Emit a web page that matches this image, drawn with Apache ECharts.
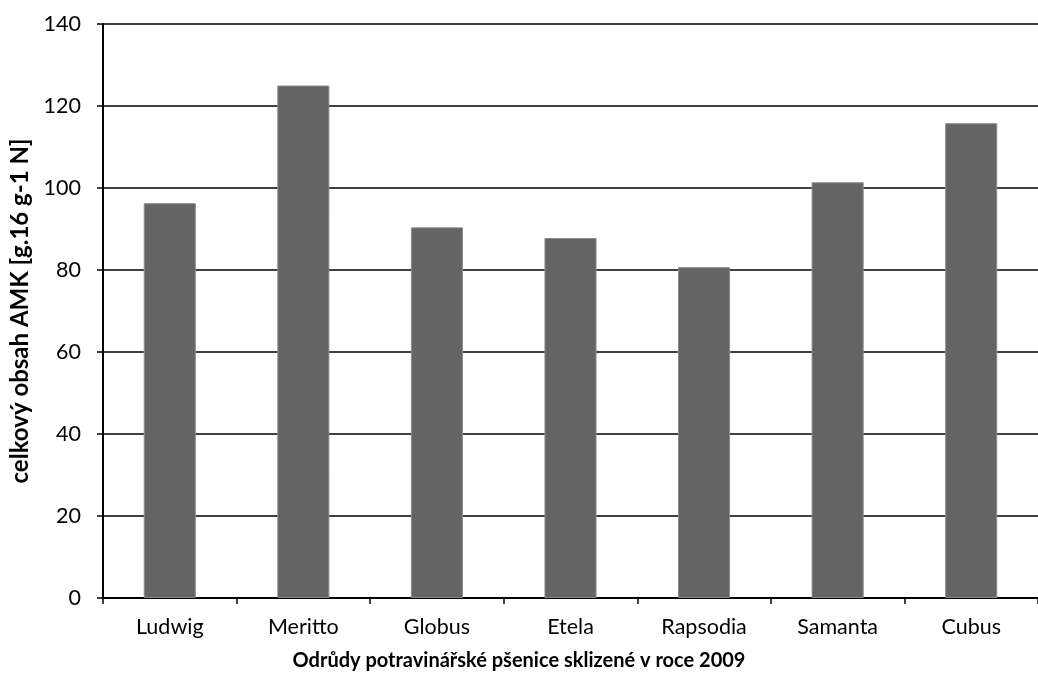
<!DOCTYPE html>
<html>
<head>
<meta charset="utf-8">
<script src="https://cdn.jsdelivr.net/npm/echarts@6/dist/echarts.min.js"></script>
<style>html,body{margin:0;padding:0;background:#fff}#c{width:1038px;height:679px}</style>
</head>
<body>
<div id="c"></div>
<script>
const categories = ['Ludwig', 'Meritto', 'Globus', 'Etela', 'Rapsodia', 'Samanta', 'Cubus'];
const values = [96.3, 125.0, 90.4, 87.8, 80.7, 101.4, 115.8];
const yTicks = [0, 20, 40, 60, 80, 100, 120, 140];
const xTitle = 'Odrůdy potravinářské pšenice sklizené v roce 2009';
const yTitle = 'celkový obsah AMK [g.16 g-1 N]';

const font = 'Lato, "Open Sans", sans-serif';
const chart = echarts.init(document.getElementById('c'), null, {renderer: 'canvas'});
chart.setOption({
  animation: false,
  backgroundColor: '#fff',
  title: {
    text: xTitle, left: 'center', top: 646,
    textStyle: {fontFamily: font, fontWeight: 'bold', fontSize: 20, color: '#000'}
  },
  grid: {left: 103, top: 24, width: 945, height: 574, containLabel: false},
  xAxis: {
    type: 'category', data: categories,
    axisLine: {lineStyle: {color: '#000', width: 2}},
    axisTick: {show: true, length: 6, alignWithLabel: false, lineStyle: {color: '#000', width: 1.5}},
    axisLabel: {fontFamily: font, fontSize: 21.5, color: '#000', margin: 18}
  },
  yAxis: {
    type: 'value', min: yTicks[0], max: yTicks[yTicks.length - 1], interval: 20,
    name: yTitle, nameLocation: 'middle', nameGap: 67, nameRotate: 90,
    nameTextStyle: {fontFamily: font, fontWeight: 'bold', fontSize: 24, color: '#000'},
    axisLine: {show: true, lineStyle: {color: '#000', width: 2}},
    axisTick: {show: true, length: 6, lineStyle: {color: '#000', width: 1.5}},
    axisLabel: {fontFamily: font, fontSize: 21.5, color: '#000', margin: 22},
    splitLine: {show: true, lineStyle: {color: '#000', width: 1.5}}
  },
  series: [{
    type: 'bar', data: values, barWidth: '39%',
    itemStyle: {color: '#646464', borderColor: '#8c8c8c', borderWidth: 1}
  }]
});
</script>
</body>
</html>
